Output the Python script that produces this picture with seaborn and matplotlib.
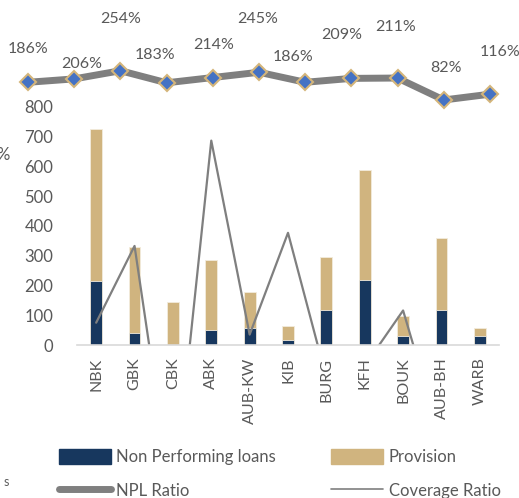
import numpy as np
import pandas as pd
import seaborn as sns
import matplotlib.pyplot as plt
from matplotlib.lines import Line2D
from matplotlib.patches import Patch

banks = ['NBK', 'GBK', 'CBK', 'ABK', 'AUB-KW', 'KIB', 'BURG', 'KFH', 'BOUK', 'AUB-BH', 'WARB']
npl = [215, 42, 1, 50, 56, 17, 117, 218, 29, 117, 29]
total = [725, 330, 145, 285, 178, 64, 297, 587, 98, 360, 57]
provision = [t - n for t, n in zip(total, npl)]
npl_ratio = [75, 333, -540, 687, 35, 377, -110, -70, 116, -320, -300]
coverage = [186, 206, 254, 183, 214, 245, 186, 209, 211, 82, 116]

NAVY = '#17375E'
TAN = '#D0B47F'
GREY = '#7F7F7F'
TXT = '#595959'

sns.set_style('white')
plt.rcParams['font.family'] = ['Lato', 'DejaVu Sans']

df = pd.DataFrame({'bank': banks, 'npl': npl, 'provision': provision, 'total': total})

fig = plt.figure(figsize=(5.19, 4.98), dpi=100)
W, H = 519, 498
ax = fig.add_axes([77 / W, (H - 345) / H, (499 - 77) / W, (345 - 107) / H])

# stacked bars: total first (tan), NPL over it (navy)
sns.barplot(data=df, x='bank', y='total', color=TAN, width=0.31, saturation=1,
            edgecolor='#F2EBDC', linewidth=0.6, ax=ax)
sns.barplot(data=df, x='bank', y='npl', color=NAVY, width=0.31, saturation=1,
            edgecolor='#F2EBDC', linewidth=0.6, ax=ax)
sns.lineplot(x=np.arange(len(banks)), y=npl_ratio, color=GREY, lw=1.6, ax=ax)

ax.set_xlim(-0.5, len(banks) - 0.5)
ax.set_ylim(0, 800)
ax.set_yticks(range(0, 801, 100))
ax.set_xlabel('')
ax.set_ylabel('')
for s in ['top', 'right', 'left']:
    ax.spines[s].set_visible(False)
ax.spines['bottom'].set_color('#D9D9D9')
ax.spines['bottom'].set_linewidth(1.2)
ax.tick_params(axis='y', length=0, pad=17, labelsize=12, labelcolor=TXT)
ax.tick_params(axis='x', which='major', length=0, pad=9, labelsize=11.5,
               labelcolor=TXT, rotation=90)
ax.set_xticks(np.arange(-0.5, len(banks)), minor=True)
ax.tick_params(axis='x', which='minor', length=5, width=1.2, color='#D9D9D9')

# coverage line at the top
ax2 = fig.add_axes([5 / W, (H - 110) / H, 508 / W, 110 / H])
ax2.set_axis_off()
sns.lineplot(x=np.arange(len(banks)), y=coverage, color=GREY, lw=5, ax=ax2,
             marker='D', markersize=8, markerfacecolor='#4472C4',
             markeredgecolor='#D4B57A', markeredgewidth=1.5, clip_on=False)
ax2.set_xlim(-0.5, len(banks) - 0.5)
ax2.set_ylim(23, 670)
dy = [33, 15, 52, 28, 33, 53, 25, 43, 51, 32, 42]
dx = [0, 7, 0, -12, 1, -1, -12, -10, -2, 2, 10]
for i, v in enumerate(coverage):
    ax2.annotate(f'{v}%', (i, v), xytext=(dx[i], dy[i]), textcoords='offset pixels',
                 ha='center', va='center', fontsize=11.5, color=TXT, annotation_clip=False)

# row-wise order for a 2-column legend
handles = [Patch(color=NAVY), Line2D([], [], color=GREY, lw=5),
           Patch(color=TAN), Line2D([], [], color=GREY, lw=1.2)]
labels = ['Non Performing loans', 'NPL Ratio', 'Provision', 'Coverage Ratio']
fig.legend(handles, labels, ncol=2, loc='upper left', bbox_to_anchor=(44 / W, (H - 434) / H),
           frameon=False, fontsize=12, labelcolor=TXT, handlelength=3.1, handleheight=1.0,
           columnspacing=3.3, labelspacing=1.05, handletextpad=0.35)

# clipped pieces of a neighbouring chart at the left edge
fig.text(-4 / W, (H - 155) / H, '%', fontsize=12, color=TXT, va='center')
fig.text(4 / W, (H - 482) / H, 's', fontsize=9, color=TXT, va='center')

fig.savefig('out.png', dpi=100)
